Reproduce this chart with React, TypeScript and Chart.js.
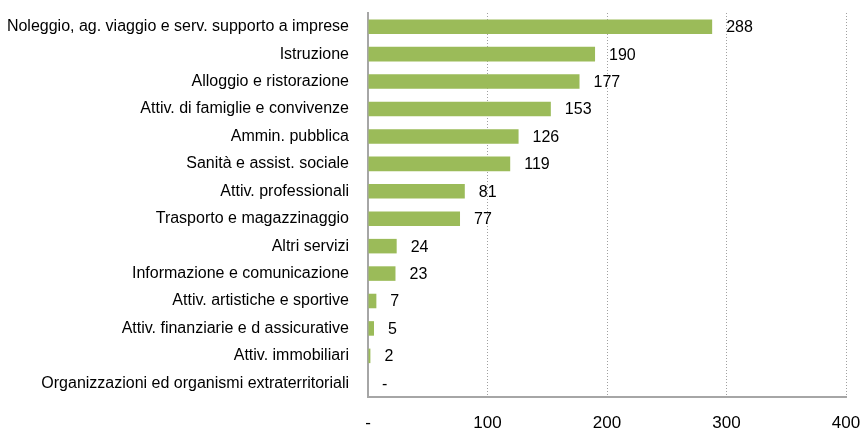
import React, { useEffect, useRef } from "react";
import { Chart, registerables } from "chart.js";

Chart.register(...registerables);

const categories = [
  "Noleggio, ag. viaggio e serv. supporto a imprese",
  "Istruzione",
  "Alloggio e ristorazione",
  "Attiv. di famiglie e convivenze",
  "Ammin. pubblica",
  "Sanità e assist. sociale",
  "Attiv. professionali",
  "Trasporto e magazzinaggio",
  "Altri servizi",
  "Informazione e comunicazione",
  "Attiv. artistiche e sportive",
  "Attiv. finanziarie e d assicurative",
  "Attiv. immobiliari",
  "Organizzazioni ed organismi extraterritoriali",
];
const values = [288, 190, 177, 153, 126, 119, 81, 77, 24, 23, 7, 5, 2, 0];
const xTicks = [0, 100, 200, 300, 400];

const FONT = "'Liberation Sans', Arial, sans-serif";

const valueLabels = {
  id: "valueLabels",
  afterDatasetsDraw(chart: any) {
    const ctx = chart.ctx;
    const meta = chart.getDatasetMeta(0);
    ctx.save();
    ctx.font = `16px ${FONT}`;
    ctx.fillStyle = "#000";
    ctx.textBaseline = "middle";
    ctx.textAlign = "left";
    meta.data.forEach((bar: any, i: number) => {
      const v = values[i];
      const txt = v === 0 ? "-" : String(v);
      ctx.fillText(txt, bar.x + 14, bar.y + 1);
    });
    ctx.restore();
  },
};

export default function App() {
  const ref = useRef<HTMLCanvasElement | null>(null);
  useEffect(() => {
    if (!ref.current) return;
    const chart = new Chart(ref.current, {
      type: "bar",
      data: {
        labels: categories,
        datasets: [
          {
            data: values,
            backgroundColor: "#9BBB59",
            borderWidth: 0,
            categoryPercentage: 1,
            barPercentage: 0.53,
          },
        ],
      },
      options: {
        indexAxis: "y",
        animation: false,
        responsive: false,
        devicePixelRatio: 1,
        layout: { padding: { top: 13, right: 17, left: 0, bottom: 0 } },
        plugins: { legend: { display: false }, tooltip: { enabled: false } },
        scales: {
          x: {
            min: 0,
            max: 400,
            afterBuildTicks(scale: any) {
              scale.ticks = xTicks.map((v) => ({ value: v }));
            },
            afterFit(scale: any) {
              scale.height = 33;
              scale.paddingRight = 0;
              scale.paddingLeft = 0;
            },
            ticks: {
              font: { size: 17, family: FONT },
              color: "#000",
              padding: 16,
              maxRotation: 0,
              callback: (v: any) => (Number(v) === 0 ? "-" : String(v)),
            },
            grid: {
              color: (c: any) => (c.tick && c.tick.value === 0 ? "rgba(0,0,0,0)" : "#A0A0A0"),
              drawTicks: false,
              lineWidth: 1,
            },
            border: { display: true, color: "#A6A6A6", width: 2, dash: [1, 2] },
          },
          y: {
            afterFit(scale: any) {
              scale.width = 368;
              scale.paddingTop = 0;
              scale.paddingBottom = 0;
            },
            ticks: {
              font: { size: 16, family: FONT },
              color: "#000",
              padding: 19,
              autoSkip: false,
            },
            grid: { display: false, drawTicks: false },
            border: { display: true, color: "#A6A6A6", width: 2 },
          },
        },
      },
      plugins: [valueLabels],
    });
    return () => chart.destroy();
  }, []);
  return (
    <div style={{ position: "fixed", left: 0, top: 0, width: 863, height: 430, background: "#fff" }}>
      <canvas ref={ref} width={863} height={430} style={{ width: 863, height: 430 }} />
    </div>
  );
}
